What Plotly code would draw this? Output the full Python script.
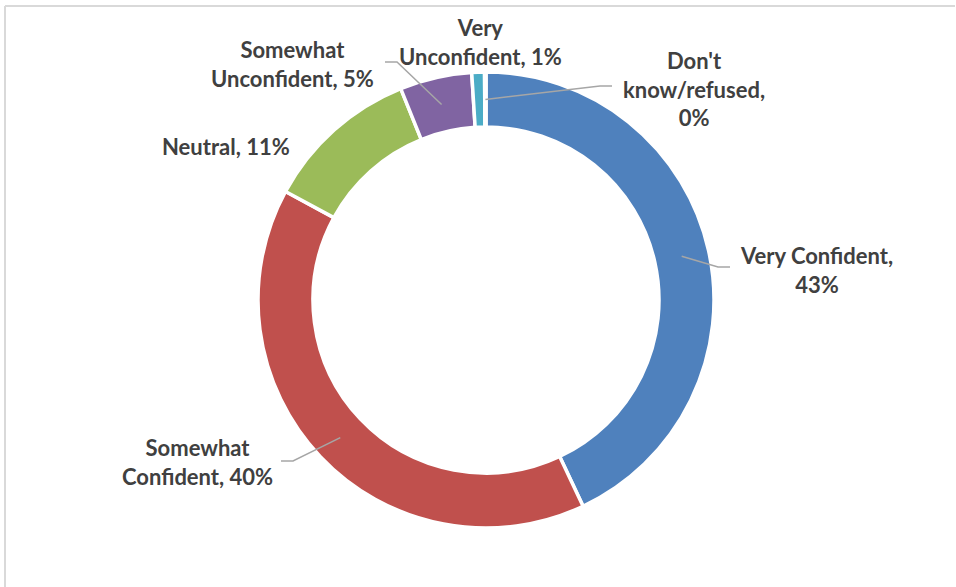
import math
import plotly.graph_objects as go

categories = ["Very Confident", "Somewhat Confident", "Neutral",
              "Somewhat Unconfident", "Very Unconfident", "Don't know/refused"]
values = [43.0, 39.9, 11.0, 5.1, 0.9, 0.1]
pct_labels = ["43%", "40%", "11%", "5%", "1%", "0%"]
label_text = ["Very Confident,<br>43%", "Somewhat<br>Confident, 40%", "Neutral, 11%",
              "Somewhat<br>Unconfident, 5%", "Very<br>Unconfident, 1%", "Don't<br>know/refused,<br>0%"]
colors = ["#4F81BD", "#C0504D", "#9BBB59", "#8064A2", "#4BACC6", "#F79646"]

W, H = 956, 587
CX, CY, R_OUT, R_IN = 486, 300, 228, 173

# label centres (px)
label_pos = [(816, 270), (197, 462), (226, 146), (292, 64), (480, 42), (694, 89)]
# leader elbows: (label end x, y, elbow x) or None
leaders = [(730, 267, 718), (281, 461, 293), None, (385, 62, 397), None, (612, 86, 600)]

fig = go.Figure()
fig.add_trace(go.Pie(
    labels=categories, values=values, sort=False, direction="clockwise", rotation=0,
    hole=R_IN / R_OUT, textinfo="none", hoverinfo="label+percent",
    marker=dict(colors=colors, line=dict(color="white", width=3.5)),
    domain=dict(x=[(CX - R_OUT) / W, (CX + R_OUT) / W],
                y=[(H - CY - R_OUT) / H, (H - CY + R_OUT) / H]),
    showlegend=False,
))

# invisible pixel axes for labels & leader lines
fig.add_trace(go.Scatter(x=[0, W], y=[0, H], mode="markers", marker=dict(opacity=0),
                         hoverinfo="skip", showlegend=False))

total = sum(values)
cum = 0.0
mid_r = (R_OUT + R_IN) / 2
for i, v in enumerate(values):
    mid = (cum + v / 2) / total * 2 * math.pi
    cum += v
    px = CX + mid_r * math.sin(mid)
    py = CY - mid_r * math.cos(mid)
    lx, ly = label_pos[i]
    fig.add_annotation(x=lx, y=ly, text="<b>" + label_text[i] + "</b>", showarrow=False,
                       font=dict(family="Lato", size=22, color="#404040"),
                       xanchor="center", yanchor="middle", align="center")
    if leaders[i] is not None:
        ex, ey, elx = leaders[i]
        fig.add_shape(type="path", path=f"M {px:.1f},{py:.1f} L {elx},{ey} L {ex},{ey}",
                      line=dict(color="#A6A6A6", width=1.5))

# chart border (top and left visible)
fig.add_shape(type="line", x0=5, y0=6, x1=955, y1=6, line=dict(color="#D9D9D9", width=2))
fig.add_shape(type="line", x0=5, y0=6, x1=5, y1=587, line=dict(color="#D9D9D9", width=2))

fig.update_layout(
    width=W, height=H, margin=dict(l=0, r=0, t=0, b=0),
    paper_bgcolor="white", plot_bgcolor="rgba(0,0,0,0)",
    xaxis=dict(range=[0, W], visible=False, fixedrange=True),
    yaxis=dict(range=[H, 0], visible=False, fixedrange=True),
)

fig.write_html("out.html", config={"displayModeBar": False},
               post_script="document.body.style.margin='0';document.body.style.overflow='hidden';")
